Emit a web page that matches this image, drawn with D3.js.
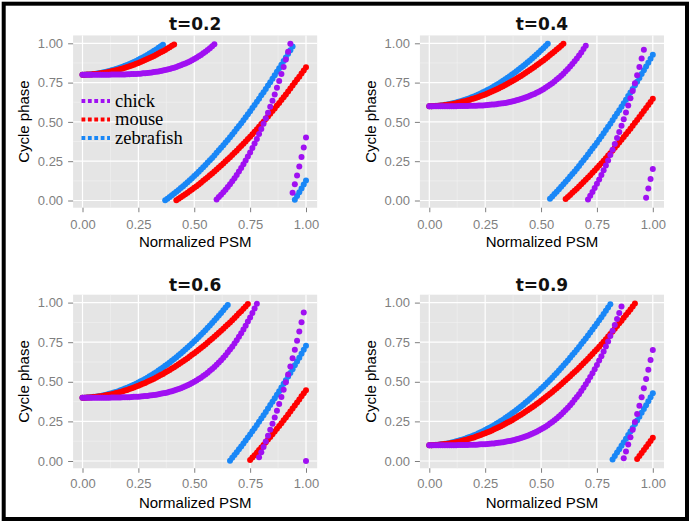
<!DOCTYPE html>
<html><head><meta charset="utf-8">
<script src="https://cdn.jsdelivr.net/npm/d3@7"></script>
<style>html,body{margin:0;padding:0;background:#fff;} svg{display:block;}</style>
</head><body>
<svg id="chart" width="691" height="530"></svg>
<script>
// Normalized PSM positions (x)
const psm = [0,0.01,0.02,0.03,0.04,0.05,0.06,0.07,0.08,0.09,
0.10,0.11,0.12,0.13,0.14,0.15,0.16,0.17,0.18,0.19,
0.20,0.21,0.22,0.23,0.24,0.25,0.26,0.27,0.28,0.29,
0.30,0.31,0.32,0.33,0.34,0.35,0.36,0.37,0.38,0.39,
0.40,0.41,0.42,0.43,0.44,0.45,0.46,0.47,0.48,0.49,
0.50,0.51,0.52,0.53,0.54,0.55,0.56,0.57,0.58,0.59,
0.60,0.61,0.62,0.63,0.64,0.65,0.66,0.67,0.68,0.69,
0.70,0.71,0.72,0.73,0.74,0.75,0.76,0.77,0.78,0.79,
0.80,0.81,0.82,0.83,0.84,0.85,0.86,0.87,0.88,0.89,
0.90,0.91,0.92,0.93,0.94,0.95,0.96,0.97,0.98,0.99,
1.00];

const panelTitles = ["t=0.2","t=0.4","t=0.6","t=0.9"];
const legendLabels = ["chick","mouse","zebrafish"];
const drawOrder = ["zebrafish","mouse","chick"];
const xTicks = [0,0.25,0.5,0.75,1];
const yTicks = [0,0.25,0.5,0.75,1];
const minorTicks = [0.125,0.375,0.625,0.875];

// Cycle phase values, panel t=0.2
const zebrafish_t02 = [0.800,0.800,0.801,0.802,0.803,0.805,0.806,0.809,0.811,0.814,
0.817,0.820,0.824,0.828,0.832,0.836,0.841,0.846,0.851,0.857,
0.862,0.868,0.875,0.881,0.888,0.895,0.903,0.910,0.918,0.926,
0.935,0.943,0.952,0.961,0.971,0.981,0.991,0.001,0.011,0.022,
0.033,0.044,0.055,0.067,0.079,0.091,0.104,0.116,0.129,0.142,
0.156,0.169,0.183,0.197,0.211,0.226,0.241,0.256,0.271,0.287,
0.303,0.319,0.335,0.352,0.369,0.385,0.402,0.420,0.438,0.456,
0.474,0.492,0.511,0.530,0.549,0.568,0.588,0.607,0.628,0.648,
0.669,0.689,0.710,0.732,0.753,0.774,0.796,0.819,0.841,0.864,
0.887,0.909,0.933,0.956,0.980,0.004,0.028,0.052,0.077,0.102,
0.127];
const mouse_t02 = [0.800,0.800,0.801,0.801,0.802,0.804,0.805,0.807,0.809,0.811,
0.813,0.816,0.819,0.822,0.825,0.829,0.832,0.836,0.840,0.845,
0.849,0.854,0.859,0.864,0.870,0.875,0.881,0.887,0.893,0.900,
0.906,0.913,0.920,0.927,0.935,0.943,0.950,0.958,0.967,0.975,
0.984,0.992,0.001,0.011,0.020,0.030,0.039,0.049,0.060,0.070,
0.081,0.091,0.102,0.113,0.125,0.136,0.148,0.160,0.172,0.184,
0.197,0.210,0.222,0.235,0.249,0.262,0.275,0.289,0.303,0.317,
0.332,0.346,0.361,0.376,0.391,0.406,0.422,0.437,0.453,0.469,
0.486,0.501,0.518,0.535,0.552,0.569,0.586,0.604,0.621,0.639,
0.657,0.675,0.694,0.712,0.731,0.750,0.769,0.788,0.808,0.827,
0.847];
const chick_t02 = [0.800,0.800,0.800,0.800,0.800,0.800,0.800,0.800,0.800,0.800,
0.800,0.800,0.800,0.801,0.801,0.801,0.801,0.801,0.802,0.802,
0.803,0.803,0.804,0.805,0.805,0.806,0.807,0.809,0.810,0.811,
0.813,0.815,0.817,0.819,0.821,0.824,0.827,0.830,0.833,0.837,
0.841,0.845,0.850,0.855,0.860,0.866,0.872,0.878,0.885,0.892,
0.900,0.908,0.917,0.926,0.936,0.946,0.957,0.969,0.981,0.994,
0.007,0.022,0.036,0.052,0.068,0.086,0.104,0.122,0.142,0.163,
0.184,0.207,0.230,0.254,0.280,0.306,0.334,0.362,0.392,0.423,
0.455,0.489,0.523,0.559,0.597,0.635,0.675,0.717,0.760,0.804,
0.850,0.897,0.946,0.997,0.049,0.103,0.159,0.217,0.276,0.337,
0.400];

// panel t=0.4
const zebrafish_t04 = [0.600,0.600,0.601,0.602,0.603,0.605,0.606,0.609,0.611,0.614,
0.617,0.620,0.624,0.628,0.632,0.636,0.641,0.646,0.651,0.657,
0.662,0.668,0.675,0.681,0.688,0.695,0.703,0.710,0.718,0.726,
0.735,0.743,0.752,0.761,0.771,0.781,0.791,0.801,0.811,0.822,
0.833,0.844,0.855,0.867,0.879,0.891,0.904,0.916,0.929,0.942,
0.956,0.969,0.983,0.997,0.011,0.026,0.041,0.056,0.071,0.087,
0.103,0.119,0.135,0.152,0.169,0.185,0.202,0.220,0.238,0.256,
0.274,0.292,0.311,0.330,0.349,0.368,0.388,0.407,0.428,0.448,
0.469,0.489,0.510,0.532,0.553,0.574,0.596,0.619,0.641,0.664,
0.687,0.709,0.733,0.756,0.780,0.804,0.828,0.852,0.877,0.902,
0.927];
const mouse_t04 = [0.600,0.600,0.601,0.601,0.602,0.604,0.605,0.607,0.609,0.611,
0.613,0.616,0.619,0.622,0.625,0.629,0.632,0.636,0.640,0.645,
0.649,0.654,0.659,0.664,0.670,0.675,0.681,0.687,0.693,0.700,
0.706,0.713,0.720,0.727,0.735,0.743,0.750,0.758,0.767,0.775,
0.784,0.792,0.801,0.811,0.820,0.830,0.839,0.849,0.860,0.870,
0.881,0.891,0.902,0.913,0.925,0.936,0.948,0.960,0.972,0.984,
0.997,0.010,0.022,0.035,0.049,0.062,0.075,0.089,0.103,0.117,
0.132,0.146,0.161,0.176,0.191,0.206,0.222,0.237,0.253,0.269,
0.286,0.301,0.318,0.335,0.352,0.369,0.386,0.404,0.421,0.439,
0.457,0.475,0.494,0.512,0.531,0.550,0.569,0.588,0.608,0.627,
0.647];
const chick_t04 = [0.600,0.600,0.600,0.600,0.600,0.600,0.600,0.600,0.600,0.600,
0.600,0.600,0.600,0.601,0.601,0.601,0.601,0.601,0.602,0.602,
0.603,0.603,0.604,0.605,0.605,0.606,0.607,0.609,0.610,0.611,
0.613,0.615,0.617,0.619,0.621,0.624,0.627,0.630,0.633,0.637,
0.641,0.645,0.650,0.655,0.660,0.666,0.672,0.678,0.685,0.692,
0.700,0.708,0.717,0.726,0.736,0.746,0.757,0.769,0.781,0.794,
0.807,0.822,0.836,0.852,0.868,0.886,0.904,0.922,0.942,0.963,
0.984,0.007,0.030,0.054,0.080,0.106,0.134,0.162,0.192,0.223,
0.255,0.289,0.323,0.359,0.397,0.435,0.475,0.517,0.560,0.604,
0.650,0.697,0.746,0.797,0.849,0.903,0.959,0.017,0.076,0.137,
0.200];

// panel t=0.6
const zebrafish_t06 = [0.400,0.400,0.401,0.402,0.403,0.405,0.406,0.409,0.411,0.414,
0.417,0.420,0.424,0.428,0.432,0.436,0.441,0.446,0.451,0.457,
0.462,0.468,0.475,0.481,0.488,0.495,0.503,0.510,0.518,0.526,
0.535,0.543,0.552,0.561,0.571,0.581,0.591,0.601,0.611,0.622,
0.633,0.644,0.655,0.667,0.679,0.691,0.704,0.716,0.729,0.742,
0.756,0.769,0.783,0.797,0.811,0.826,0.841,0.856,0.871,0.887,
0.903,0.919,0.935,0.952,0.969,0.985,0.002,0.020,0.038,0.056,
0.074,0.092,0.111,0.130,0.149,0.168,0.188,0.207,0.228,0.248,
0.269,0.289,0.310,0.332,0.353,0.374,0.396,0.419,0.441,0.464,
0.487,0.509,0.533,0.556,0.580,0.604,0.628,0.652,0.677,0.702,
0.727];
const mouse_t06 = [0.400,0.400,0.401,0.401,0.402,0.404,0.405,0.407,0.409,0.411,
0.413,0.416,0.419,0.422,0.425,0.429,0.432,0.436,0.440,0.445,
0.449,0.454,0.459,0.464,0.470,0.475,0.481,0.487,0.493,0.500,
0.506,0.513,0.520,0.527,0.535,0.543,0.550,0.558,0.567,0.575,
0.584,0.592,0.601,0.611,0.620,0.630,0.639,0.649,0.660,0.670,
0.681,0.691,0.702,0.713,0.725,0.736,0.748,0.760,0.772,0.784,
0.797,0.810,0.822,0.835,0.849,0.862,0.875,0.889,0.903,0.917,
0.932,0.946,0.961,0.976,0.991,0.006,0.022,0.037,0.053,0.069,
0.086,0.101,0.118,0.135,0.152,0.169,0.186,0.204,0.221,0.239,
0.257,0.275,0.294,0.312,0.331,0.350,0.369,0.388,0.408,0.427,
0.447];
const chick_t06 = [0.400,0.400,0.400,0.400,0.400,0.400,0.400,0.400,0.400,0.400,
0.400,0.400,0.400,0.401,0.401,0.401,0.401,0.401,0.402,0.402,
0.403,0.403,0.404,0.405,0.405,0.406,0.407,0.409,0.410,0.411,
0.413,0.415,0.417,0.419,0.421,0.424,0.427,0.430,0.433,0.437,
0.441,0.445,0.450,0.455,0.460,0.466,0.472,0.478,0.485,0.492,
0.500,0.508,0.517,0.526,0.536,0.546,0.557,0.569,0.581,0.594,
0.607,0.622,0.636,0.652,0.668,0.686,0.704,0.722,0.742,0.763,
0.784,0.807,0.830,0.854,0.880,0.906,0.934,0.962,0.992,0.023,
0.055,0.089,0.123,0.159,0.197,0.235,0.275,0.317,0.360,0.404,
0.450,0.497,0.546,0.597,0.649,0.703,0.759,0.817,0.876,0.937,
0.000];

// panel t=0.9
const zebrafish_t09 = [0.100,0.100,0.101,0.102,0.103,0.105,0.106,0.109,0.111,0.114,
0.117,0.120,0.124,0.128,0.132,0.136,0.141,0.146,0.151,0.157,
0.162,0.168,0.175,0.181,0.188,0.195,0.203,0.210,0.218,0.226,
0.235,0.243,0.252,0.261,0.271,0.281,0.291,0.301,0.311,0.322,
0.333,0.344,0.355,0.367,0.379,0.391,0.404,0.416,0.429,0.442,
0.456,0.469,0.483,0.497,0.511,0.526,0.541,0.556,0.571,0.587,
0.603,0.619,0.635,0.652,0.669,0.685,0.702,0.720,0.738,0.756,
0.774,0.792,0.811,0.830,0.849,0.868,0.888,0.907,0.928,0.948,
0.969,0.989,0.010,0.032,0.053,0.074,0.096,0.119,0.141,0.164,
0.187,0.209,0.233,0.256,0.280,0.304,0.328,0.352,0.377,0.402,
0.427];
const mouse_t09 = [0.100,0.100,0.101,0.101,0.102,0.104,0.105,0.107,0.109,0.111,
0.113,0.116,0.119,0.122,0.125,0.129,0.132,0.136,0.140,0.145,
0.149,0.154,0.159,0.164,0.170,0.175,0.181,0.187,0.193,0.200,
0.206,0.213,0.220,0.227,0.235,0.243,0.250,0.258,0.267,0.275,
0.284,0.292,0.301,0.311,0.320,0.330,0.339,0.349,0.360,0.370,
0.381,0.391,0.402,0.413,0.425,0.436,0.448,0.460,0.472,0.484,
0.497,0.510,0.522,0.535,0.549,0.562,0.575,0.589,0.603,0.617,
0.632,0.646,0.661,0.676,0.691,0.706,0.722,0.737,0.753,0.769,
0.786,0.801,0.818,0.835,0.852,0.869,0.886,0.904,0.921,0.939,
0.957,0.975,0.994,0.012,0.031,0.050,0.069,0.088,0.108,0.127,
0.147];
const chick_t09 = [0.100,0.100,0.100,0.100,0.100,0.100,0.100,0.100,0.100,0.100,
0.100,0.100,0.100,0.101,0.101,0.101,0.101,0.101,0.102,0.102,
0.103,0.103,0.104,0.105,0.105,0.106,0.107,0.109,0.110,0.111,
0.113,0.115,0.117,0.119,0.121,0.124,0.127,0.130,0.133,0.137,
0.141,0.145,0.150,0.155,0.160,0.166,0.172,0.178,0.185,0.192,
0.200,0.208,0.217,0.226,0.236,0.246,0.257,0.269,0.281,0.294,
0.307,0.322,0.336,0.352,0.368,0.386,0.404,0.422,0.442,0.463,
0.484,0.507,0.530,0.554,0.580,0.606,0.634,0.662,0.692,0.723,
0.755,0.789,0.823,0.859,0.897,0.935,0.975,0.017,0.060,0.104,
0.150,0.197,0.246,0.297,0.349,0.403,0.459,0.517,0.576,0.637,
0.700];

const panelData = [
  {chick: chick_t02, mouse: mouse_t02, zebrafish: zebrafish_t02},
  {chick: chick_t04, mouse: mouse_t04, zebrafish: zebrafish_t04},
  {chick: chick_t06, mouse: mouse_t06, zebrafish: zebrafish_t06},
  {chick: chick_t09, mouse: mouse_t09, zebrafish: zebrafish_t09}
];

// ---- styling / layout ----
const colour = {chick: "#A010F2", mouse: "#FF0000", zebrafish: "#1987F7"};
const cols = [{x0: 82.5, yTitleX: 29}, {x0: 429.3, yTitleX: 375.8}];
const rows = [{yTop: 43.3, yBot: 200.5, titleY: 30, tickY: 228.7, axisTitleY: 247.3},
              {yTop: 302.6, yBot: 461.0, titleY: 291, tickY: 488, axisTitleY: 508.3}];
const plotW = 223.5;
const sansFont = "'Liberation Sans', Arial, Helvetica, sans-serif";

const svg = d3.select("#chart");
svg.append("rect").attr("width", 691).attr("height", 530).attr("fill", "#fff");

panelData.forEach((series, k) => {
  const col = cols[k % 2], row = rows[Math.floor(k / 2)];
  const x = d3.scaleLinear().domain([0, 1]).range([col.x0, col.x0 + plotW]);
  const y = d3.scaleLinear().domain([0, 1]).range([row.yBot, row.yTop]);
  const gx0 = x(-0.042), gx1 = x(1.05), gy0 = y(1.05), gy1 = y(-0.046);
  const g = svg.append("g");

  g.append("rect").attr("x", gx0).attr("y", gy0).attr("width", gx1 - gx0).attr("height", gy1 - gy0)
    .attr("fill", "#E5E5E5");
  // minor grid
  g.selectAll(".minx").data(minorTicks).enter().append("line")
    .attr("x1", d => x(d)).attr("x2", d => x(d)).attr("y1", gy0).attr("y2", gy1)
    .attr("stroke", "#F2F2F2").attr("stroke-width", 0.6);
  g.selectAll(".miny").data(minorTicks).enter().append("line")
    .attr("y1", d => y(d)).attr("y2", d => y(d)).attr("x1", gx0).attr("x2", gx1)
    .attr("stroke", "#F2F2F2").attr("stroke-width", 0.6);
  // major grid
  g.selectAll(".majx").data(xTicks).enter().append("line")
    .attr("x1", d => x(d)).attr("x2", d => x(d)).attr("y1", gy0).attr("y2", gy1)
    .attr("stroke", "#FFFFFF").attr("stroke-width", 1.2);
  g.selectAll(".majy").data(yTicks).enter().append("line")
    .attr("y1", d => y(d)).attr("y2", d => y(d)).attr("x1", gx0).attr("x2", gx1)
    .attr("stroke", "#FFFFFF").attr("stroke-width", 1.2);

  // points
  drawOrder.forEach(sp => {
    const pts = psm.map((px, i) => ({x: px, p: series[sp][i]}));
    g.append("g").selectAll("circle").data(pts).enter().append("circle")
      .attr("cx", d => x(d.x)).attr("cy", d => y(d.p)).attr("r", 3)
      .attr("fill", colour[sp]);
  });

  // axes
  const xa = d3.axisBottom(x).tickValues(xTicks).tickFormat(d3.format(".2f"))
    .tickSize(4.5).tickPadding(row.tickY - gy1 - 9.2 - 4.5);
  const ya = d3.axisLeft(y).tickValues(yTicks).tickFormat(d3.format(".2f"))
    .tickSize(5).tickPadding(5);
  const gxA = svg.append("g").attr("transform", `translate(0,${gy1})`).call(xa);
  const gyA = svg.append("g").attr("transform", `translate(${gx0},0)`).call(ya);
  [gxA, gyA].forEach(a => {
    a.select(".domain").remove();
    a.selectAll(".tick line").attr("stroke", "#7F7F7F").attr("stroke-width", 1);
    a.selectAll(".tick text").attr("fill", "#7F7F7F").style("font-family", sansFont).style("font-size", "13px");
  });

  // titles
  const cx = (gx0 + gx1) / 2;
  svg.append("text").attr("x", cx).attr("y", row.titleY).attr("text-anchor", "middle")
    .style("font-family", "'DejaVu Sans', Verdana, sans-serif").style("font-weight", "bold")
    .style("font-size", "17px").attr("fill", "#111").text(panelTitles[k]);
  svg.append("text").attr("x", cx).attr("y", row.axisTitleY).attr("text-anchor", "middle")
    .style("font-family", sansFont).style("font-size", "15px").attr("fill", "#000")
    .text("Normalized PSM");
  svg.append("text").attr("transform", `translate(${col.yTitleX},${(gy0 + gy1) / 2}) rotate(-90)`)
    .attr("text-anchor", "middle").style("font-family", sansFont).style("font-size", "15px")
    .attr("fill", "#000").text("Cycle phase");

  // legend (first panel only)
  if (k === 0) {
    const lg = svg.append("g");
    legendLabels.forEach((lab, j) => {
      const ly = 101 + j * 18.5;
      lg.append("line").attr("x1", 81.5).attr("x2", 110).attr("y1", ly).attr("y2", ly)
        .attr("stroke", colour[lab]).attr("stroke-width", 3.8).attr("stroke-dasharray", "3.8 2.6");
      lg.append("text").attr("x", 115).attr("y", ly + 5.5)
        .style("font-family", "'Liberation Serif', 'Times New Roman', serif").style("font-size", "18.5px")
        .attr("fill", "#000").text(lab);
    });
  }
});

// outer frame
svg.append("rect").attr("x", 3.7).attr("y", 3.7).attr("width", 683.3).attr("height", 515.3)
  .attr("fill", "none").attr("stroke", "#000").attr("stroke-width", 4);
</script>
</body></html>
